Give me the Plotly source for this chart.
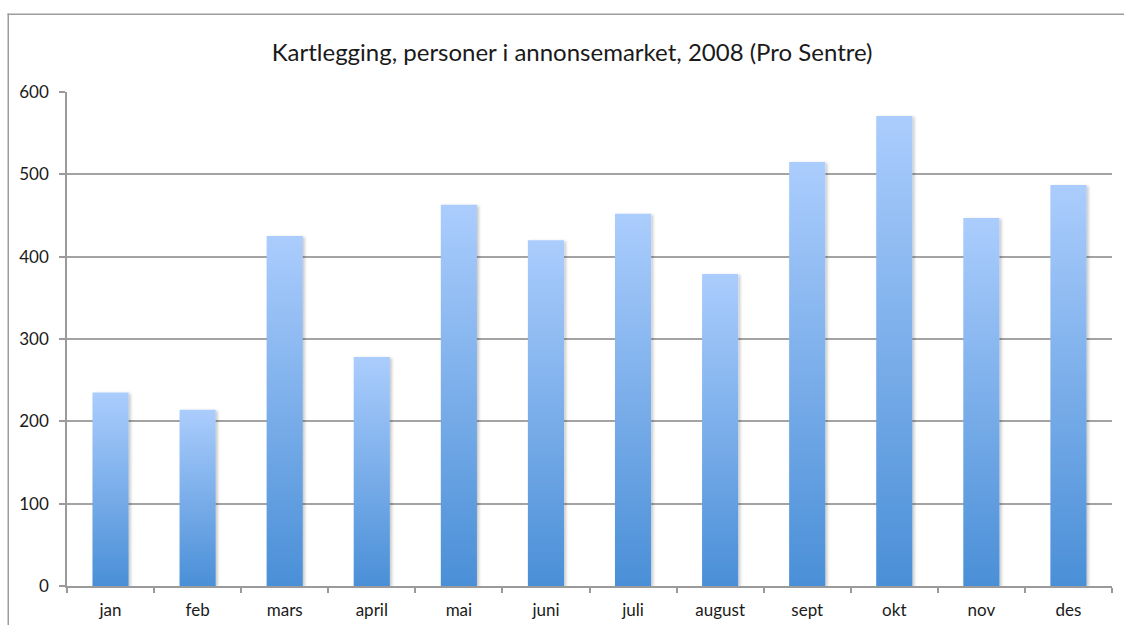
import plotly.graph_objects as go

months = ["jan", "feb", "mars", "april", "mai", "juni", "juli",
          "august", "sept", "okt", "nov", "des"]
persons = [235, 214, 425, 278, 463, 420, 452, 379, 515, 571, 447, 487]
y_ticks = [0, 100, 200, 300, 400, 500, 600]

title_text = "Kartlegging, personer i annonsemarket, 2008 (Pro Sentre)"

grid_col = "#a3a3a3"
axis_col = "#9a9a9a"
frame_col = "#9c9c9c"
font_family = "Lato, 'Open Sans', sans-serif"

fig = go.Figure(
    go.Bar(
        x=months,
        y=persons,
        marker=dict(color="#7fb1ec", line=dict(width=0)),
        hoverinfo="x+y",
    )
)

# plot area in pixels: x 67..1112, y 92..586
L, R, T, B = 67, 12, 92, 39
W, H = 1124, 625

fig.update_layout(
    width=W,
    height=H,
    margin=dict(l=L, r=R, t=T, b=B, autoexpand=False),
    paper_bgcolor="white",
    plot_bgcolor="white",
    bargap=0.585,
    showlegend=False,
    font=dict(family=font_family, size=17, color="#1a1a1a"),
    title=dict(
        text=title_text,
        x=0.509,
        xanchor="center",
        y=1 - 53 / H,
        yanchor="middle",
        font=dict(family=font_family, size=24, color="#1a1a1a"),
    ),
    xaxis=dict(
        type="category",
        tickson="boundaries",
        ticks="outside",
        ticklen=5,
        tickcolor=axis_col,
        tickwidth=1.5,
        showline=True,
        linecolor=axis_col,
        linewidth=1.5,
        showgrid=False,
        automargin=False,
        ticklabelstandoff=8,
        tickfont=dict(size=17),
    ),
    yaxis=dict(
        range=[0, 600],
        tickvals=y_ticks,
        ticks="outside",
        ticklen=6,
        tickcolor=axis_col,
        tickwidth=1.5,
        showline=True,
        linecolor=axis_col,
        linewidth=1.5,
        showgrid=True,
        gridcolor=grid_col,
        gridwidth=1.5,
        zeroline=False,
        automargin=False,
        ticklabelstandoff=7,
        tickfont=dict(size=17),
    ),
)

# chart frame as two thin filled strips (top and left edges),
# plus a vertical gradient and soft drop shadow for each bar
post_js = """
var gd = document.getElementById('{plot_id}');
var svg = gd.querySelector('.main-svg');
var ns = 'http://www.w3.org/2000/svg';
function strip(x, y, w, h) {
  var r = document.createElementNS(ns, 'rect');
  r.setAttribute('x', x); r.setAttribute('y', y);
  r.setAttribute('width', w); r.setAttribute('height', h);
  r.setAttribute('fill', '%s');
  svg.appendChild(r);
}
strip(7.5, 13.5, 1116.5, 1.5);
strip(7.5, 13.5, 1.5, 611.5);
var defs = svg.querySelector('defs') || svg.insertBefore(document.createElementNS(ns, 'defs'), svg.firstChild);
var grad = document.createElementNS(ns, 'linearGradient');
grad.setAttribute('id', 'barGrad');
grad.setAttribute('x1', '0'); grad.setAttribute('y1', '0');
grad.setAttribute('x2', '0'); grad.setAttribute('y2', '1');
[['0%%', '#abcdfd'], ['100%%', '#4a8fd7']].forEach(function (s) {
  var st = document.createElementNS(ns, 'stop');
  st.setAttribute('offset', s[0]);
  st.setAttribute('stop-color', s[1]);
  grad.appendChild(st);
});
defs.appendChild(grad);
var flt = document.createElementNS(ns, 'filter');
flt.setAttribute('id', 'barShadow');
flt.setAttribute('x', '-20%%'); flt.setAttribute('y', '-5%%');
flt.setAttribute('width', '150%%'); flt.setAttribute('height', '115%%');
var ds = document.createElementNS(ns, 'feDropShadow');
ds.setAttribute('dx', '2'); ds.setAttribute('dy', '1');
ds.setAttribute('stdDeviation', '1.6');
ds.setAttribute('flood-color', '#000');
ds.setAttribute('flood-opacity', '0.22');
flt.appendChild(ds);
defs.appendChild(flt);
gd.querySelectorAll('.barlayer .point path').forEach(function (p) {
  p.style.fill = 'url(#barGrad)';
  p.style.fillOpacity = '1';
  p.setAttribute('filter', 'url(#barShadow)');
});
""" % frame_col

fig.write_html("out.html", post_script=post_js)
